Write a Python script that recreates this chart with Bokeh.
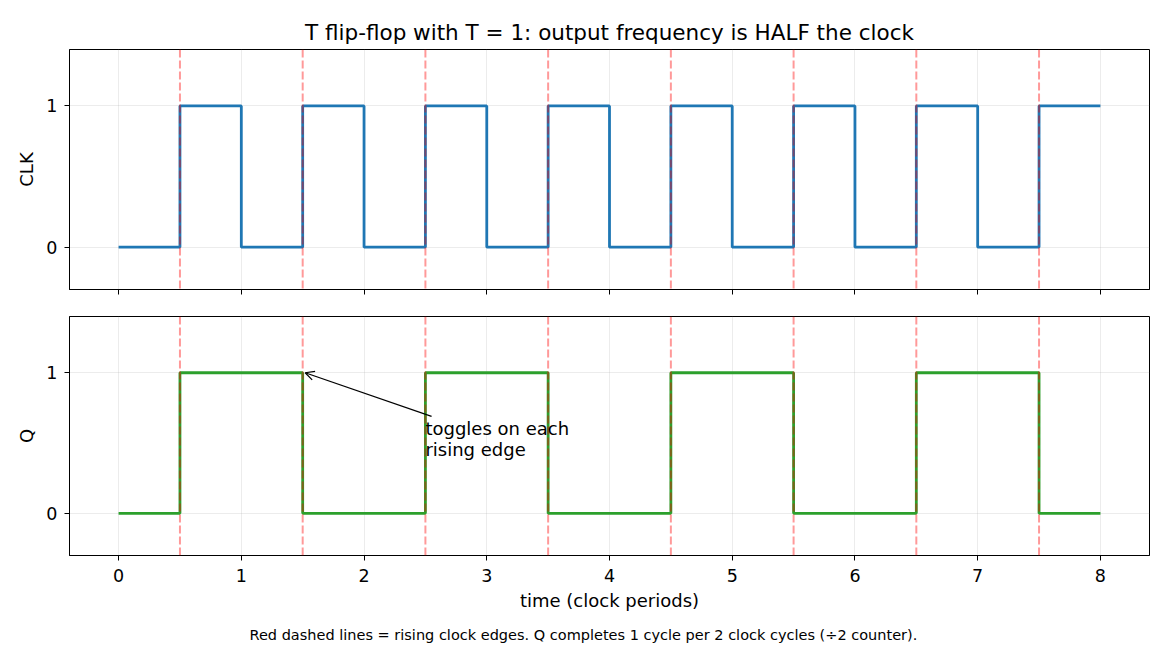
from bokeh.plotting import figure
from bokeh.layouts import column
from bokeh.models import (Span, Arrow, OpenHead, Label, Title, Range1d, FixedTicker,
                          CustomLabelingPolicy)
from bokeh.embed import file_html
from bokeh.resources import INLINE

# ---- data ----
t = [0, 0.5, 1, 1.5, 2, 2.5, 3, 3.5, 4, 4.5, 5, 5.5, 6, 6.5, 7, 7.5, 8]
clk = [0, 1, 0, 1, 0, 1, 0, 1, 0, 1, 0, 1, 0, 1, 0, 1, 1]
q = [0, 1, 1, 0, 0, 1, 1, 0, 0, 1, 1, 0, 0, 1, 1, 0, 0]
rising_edges = [0.5, 1.5, 2.5, 3.5, 4.5, 5.5, 6.5, 7.5]
x_ticks = [0, 1, 2, 3, 4, 5, 6, 7, 8]
y_ticks = [0, 1]

title_text = "T flip-flop with T = 1: output frequency is HALF the clock"
xlabel = "time (clock periods)"
footnote = "Red dashed lines = rising clock edges. Q completes 1 cycle per 2 clock cycles (\u00f72 counter)."
annot_text = "toggles on each\nrising edge"
annot_xy = (1.52, 1.0)
annot_tail = (2.55, 0.69)
annot_text_pos = (2.5, 0.676)

FONT = "DejaVu Sans"


def style(p, ylabel):
    p.x_range = Range1d(-0.4, 8.4)
    p.y_range = Range1d(-0.3, 1.4)
    p.outline_line_color = "black"
    p.outline_line_width = 1
    p.background_fill_color = "white"
    p.border_fill_color = "white"
    for ax in (p.xaxis[0], p.yaxis[0]):
        ax.axis_line_color = "black"
        ax.major_tick_line_color = "black"
        ax.major_tick_out = 5
        ax.major_tick_in = 0
        ax.minor_tick_line_color = None
        ax.major_label_text_font = FONT
        ax.major_label_text_font_size = "17.5px"
        ax.major_label_text_color = "black"
        ax.axis_label_text_font = FONT
        ax.axis_label_text_font_size = "18px"
        ax.axis_label_text_font_style = "normal"
        ax.axis_label_text_color = "black"
    p.xaxis.ticker = FixedTicker(ticks=x_ticks)
    p.yaxis.ticker = FixedTicker(ticks=y_ticks)
    p.yaxis.axis_label = ylabel
    p.yaxis.major_label_standoff = 7
    p.yaxis.axis_label_standoff = 6
    p.xgrid.grid_line_color = "#b0b0b0"
    p.ygrid.grid_line_color = "#b0b0b0"
    p.xgrid.grid_line_alpha = 0.3
    p.ygrid.grid_line_alpha = 0.3
    p.xgrid.grid_line_width = 0.8
    p.ygrid.grid_line_width = 0.8
    for e in rising_edges:
        p.add_layout(Span(location=e, dimension="height", line_color="red",
                          line_alpha=0.4, line_width=2, line_dash="8 3"))


# ---- top: CLK ----
p1 = figure(frame_width=1080, frame_height=240, output_backend="svg",
            toolbar_location=None, min_border_left=69, min_border_right=21,
            min_border_top=49, min_border_bottom=13)
p1.step(t, clk, mode="after", line_color="#1f77b4", line_width=2.8)
style(p1, "CLK")
p1.xaxis.major_label_policy = CustomLabelingPolicy(code="return new Set()")
p1.xaxis.major_label_standoff = 0
p1.title.text = title_text
p1.title.align = "center"
p1.title.text_font = FONT
p1.title.text_font_size = "21.5px"
p1.title.text_font_style = "normal"
p1.title.text_color = "black"
p1.title.standoff = 10

# ---- bottom: Q ----
p2 = figure(frame_width=1080, frame_height=239, output_backend="svg",
            toolbar_location=None, min_border_left=69, min_border_right=21,
            min_border_top=6, min_border_bottom=95)
p2.step(t, q, mode="after", line_color="#2ca02c", line_width=2.8)
style(p2, "Q")
p2.xaxis.axis_label = xlabel
p2.xaxis.major_label_standoff = 8
p2.xaxis.axis_label_standoff = 5

p2.add_layout(Arrow(end=OpenHead(size=9, line_width=1.2, line_color="black"),
                    x_start=annot_tail[0], y_start=annot_tail[1],
                    x_end=annot_xy[0], y_end=annot_xy[1],
                    line_width=1.2, line_color="black"))
p2.add_layout(Label(x=annot_text_pos[0], y=annot_text_pos[1], text=annot_text,
                    text_baseline="top", text_align="left", text_line_height=1.0,
                    text_font=FONT, text_font_size="18px", text_color="black"))

foot = Title(text=footnote, align="left", text_font=FONT,
             text_font_size="14.5px", text_font_style="normal",
             text_color="black", offset=180, standoff=23)
p2.add_layout(foot, "below")

layout = column(p1, p2, spacing=0)
open("out.html", "w").write(file_html(layout, INLINE))
